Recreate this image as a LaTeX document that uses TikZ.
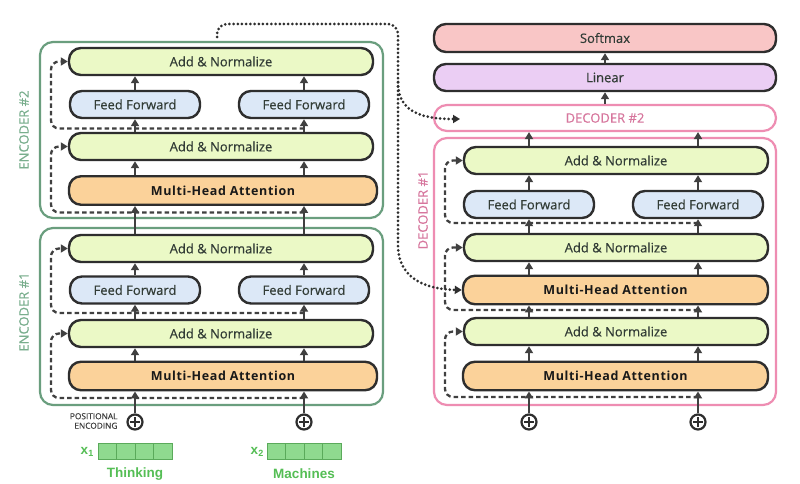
\documentclass[tikz,border=0pt]{standalone}
\usepackage{fontspec}
\setmainfont{Open Sans}
\newfontfamily\wordfont{Liberation Sans}
\usetikzlibrary{arrows.meta}
\definecolor{encg}{HTML}{6A9E7E}
\definecolor{encl}{HTML}{79AE8D}
\definecolor{decp}{HTML}{EE8DB2}
\definecolor{decl}{HTML}{D7769D}
\definecolor{anfill}{HTML}{EBF9C6}
\definecolor{fffill}{HTML}{DCE8F7}
\definecolor{mhfill}{HTML}{FBD29A}
\definecolor{smfill}{HTML}{F9C6C6}
\definecolor{lnfill}{HTML}{EBCEF4}
\definecolor{edge}{HTML}{2E2E2E}
\definecolor{arrc}{HTML}{404040}
\definecolor{txt}{HTML}{323C36}
\definecolor{wgreen}{HTML}{55BE55}
\definecolor{wfill}{HTML}{8FDA8F}
\definecolor{wedge}{HTML}{5BAA5B}
\tikzset{
  basebox/.style={draw=edge, line width=2.4pt, rounded corners=12pt, minimum height=27pt, inner sep=0pt, text=txt, font=\fontsize{13}{15}\selectfont\addfontfeature{FakeBold=0.5}},
  anbox/.style={basebox, fill=anfill, minimum width=304pt},
  ffbox/.style={basebox, fill=fffill, minimum width=130pt},
  mhbox/.style={basebox, fill=mhfill, minimum width=308pt, minimum height=28.5pt, text=black!90, font=\fontsize{12.5}{15}\selectfont\bfseries\addfontfeature{LetterSpace=5}},
  smbox/.style={basebox, fill=smfill, minimum width=342pt, minimum height=28pt},
  lnbox/.style={basebox, fill=lnfill, minimum width=342pt},
  encbox/.style={draw=encg, line width=2.2pt, rounded corners=13pt, minimum width=343pt, inner sep=0pt},
  decbox/.style={draw=decp, line width=2.2pt, rounded corners=13pt, minimum width=342pt, inner sep=0pt},
  enclab/.style={text=encl, font=\fontsize{13}{14}\selectfont\addfontfeature{FakeBold=0.4}, rotate=90},
  arr/.style={draw=arrc, line width=2.3pt, -{Triangle[length=7pt,width=8pt]}},
  resid/.style={draw=arrc, line width=2.3pt, dash pattern=on 4.5pt off 3pt, rounded corners=8pt, -{Triangle[length=7pt,width=8pt]}},
  dotline/.style={draw=edge, line width=3pt, dash pattern=on 0pt off 4.2pt, line cap=round, rounded corners=10pt},
  plusc/.style={circle, draw=edge, line width=2.2pt, minimum size=15pt, inner sep=0pt,
    path picture={\draw[edge, line width=2pt] (path picture bounding box.center) +(-5pt,0) -- +(5pt,0) +(0,-5pt) -- +(0,5pt);}},
  cell/.style={draw=wedge, fill=wfill, line width=0.9pt, minimum width=18.5pt, minimum height=16pt, inner sep=0pt},
  wlab/.style={text=wgreen, font=\wordfont\bfseries\fontsize{13.5}{15}\selectfont},
}
\begin{document}
\begin{tikzpicture}[x=1pt,y=-1pt]
\useasboundingbox[fill=white] (0,0) rectangle (800,484);
% outer boxes
\node[encbox, minimum height=176pt] (enc2) at (211.5,130) {};
\node[encbox, minimum height=177pt] (enc1) at (211.5,316.5) {};
\node[decbox, minimum height=267pt] (dec1) at (605,271.5) {};
\node[enclab] (l2) at (24,130) {ENCODER \#2};
\node[enclab] (l1) at (24,312) {ENCODER \#1};
\node[enclab, text=decl] (ld1) at (423,210) {DECODER \#1};
% columns
\coordinate (ca) at (135,0);
\coordinate (cb) at (304,0);
\coordinate (da) at (529,0);
\coordinate (dbb) at (698,0);
\coordinate (lx) at (51,0);
\coordinate (dlx) at (445,0);
% encoder 2
\node[anbox] (an2t) at (221,61.5) {Add \& Normalize};
\node[ffbox] (ff2l) at (135,104.5) {Feed Forward};
\node[ffbox] (ff2r) at (304,104.5) {Feed Forward};
\node[anbox] (an2b) at (221,146.5) {Add \& Normalize};
\node[mhbox] (mh2) at (223,190.5) {Multi-Head Attention};
% encoder 1
\node[anbox] (an1t) at (221,248.5) {Add \& Normalize};
\node[ffbox] (ff1l) at (135,290) {Feed Forward};
\node[ffbox] (ff1r) at (304,290) {Feed Forward};
\node[anbox] (an1b) at (221,333.5) {Add \& Normalize};
\node[mhbox] (mh1) at (223,376) {Multi-Head Attention};
% decoder
\node[smbox] (sm) at (605,38) {Softmax};
\node[lnbox] (ln) at (605,77.5) {Linear};
\node[decbox, minimum height=26pt, text=decl, font=\fontsize{13}{14}\selectfont\addfontfeature{FakeBold=0.4}] (dec2) at (605,118) {DECODER \#2};
\node[anbox] (dan3) at (616,160.5) {Add \& Normalize};
\node[ffbox] (dffl) at (529,204.5) {Feed Forward};
\node[ffbox] (dffr) at (698,204.5) {Feed Forward};
\node[anbox] (dan2) at (616,247.5) {Add \& Normalize};
\node[mhbox, minimum width=305pt] (dmh2) at (615.5,290) {Multi-Head Attention};
\node[anbox] (dan1) at (616,331.5) {Add \& Normalize};
\node[mhbox, minimum width=305pt] (dmh1) at (615.5,376) {Multi-Head Attention};
% plus circles
\node[plusc] (p1) at (135,422) {};
\node[plusc] (p2) at (304,422) {};
\node[plusc] (dp1) at (529,422) {};
\node[plusc] (dp2) at (698,422) {};
\node[anchor=east, align=right, text=black!75, font=\fontsize{8.3}{9.5}\selectfont\addfontfeature{FakeBold=0.6}] (pe) at (121,421) {POSITIONAL\\ENCODING};
% word embeddings
\foreach \i in {1,...,4}{
  \node[cell] (t\i) at ({98+18.5*(\i-0.5)},451) {};
  \node[cell] (m\i) at ({267+18.5*(\i-0.5)},451) {};
}
\node[wlab] (x1) at (87,452) {x\raisebox{-0.35ex}{\fontsize{9}{9}\selectfont 1}};
\node[wlab] (x2) at (257,452) {x\raisebox{-0.35ex}{\fontsize{9}{9}\selectfont 2}};
\node[wlab] (w1) at (135,474) {Thinking};
\node[wlab] (w2) at (304,474) {Machines};
% solid arrows encoder
\foreach \c/\p/\fa/\fb in {ca/p1/ff1l/ff2l, cb/p2/ff1r/ff2r}{
  \draw[arr] (\p.north) -- (mh1.south -| \c);
  \draw[arr] (mh1.north -| \c) -- (an1b.south -| \c);
  \draw[arr] (an1b.north -| \c) -- (\fa.south);
  \draw[arr] (\fa.north) -- (an1t.south -| \c);
  \draw[arr] (an1t.north -| \c) -- (mh2.south -| \c);
  \draw[arr] (mh2.north -| \c) -- (an2b.south -| \c);
  \draw[arr] (an2b.north -| \c) -- (\fb.south);
  \draw[arr] (\fb.north) -- (an2t.south -| \c);
}
% solid arrows decoder
\foreach \c/\p/\f in {da/dp1/dffl, dbb/dp2/dffr}{
  \draw[arr] (\p.north) -- (dmh1.south -| \c);
  \draw[arr] (dmh1.north -| \c) -- (dan1.south -| \c);
  \draw[arr] (dan1.north -| \c) -- (dmh2.south -| \c);
  \draw[arr] (dmh2.north -| \c) -- (dan2.south -| \c);
  \draw[arr] (dan2.north -| \c) -- (\f.south);
  \draw[arr] (\f.north) -- (dan3.south -| \c);
  \draw[arr] (dan3.north -| \c) -- (dec2.south -| \c);
}
\draw[arr] (dec2.north) -- (ln.south);
\draw[arr] (ln.north) -- (sm.south);
% residual dashed
\coordinate (r1) at (304,398);
\coordinate (r2) at (304,313);
\coordinate (r3) at (304,212.5);
\coordinate (r4) at (304,128.5);
\coordinate (s1) at (698,397);
\coordinate (s2) at (698,310);
\coordinate (s3) at (698,223);
\draw[resid] (r1) -- (r1 -| lx) |- (an1b.west);
\draw[resid] (r2) -- (r2 -| lx) |- (an1t.west);
\draw[resid] (r3) -- (r3 -| lx) |- (an2b.west);
\draw[resid] (r4) -- (r4 -| lx) |- (an2t.west);
\draw[resid] (s1) -- (s1 -| dlx) |- (dan1.west);
\draw[resid] (s2) -- (s2 -| dlx) |- (dan2.west);
\draw[resid] (s3) -- (s3 -| dlx) |- (dan3.west);
% dotted encoder output
\coordinate (ds) at (217,37);
\coordinate (dtop) at (398,24);
\coordinate (dbr) at (398,82);
\coordinate (d2in) at (460,119);
\draw[dotline, -{Triangle[length=7pt,width=8pt]}] (ds) |- (dtop) -- (398,235) .. controls (398,275) and (420,289) .. (dmh2.west);
\draw[dotline, -{Triangle[length=7pt,width=8pt]}] (dbr) .. controls (398,108) and (415,119) .. (d2in);
\end{tikzpicture}
\end{document}
